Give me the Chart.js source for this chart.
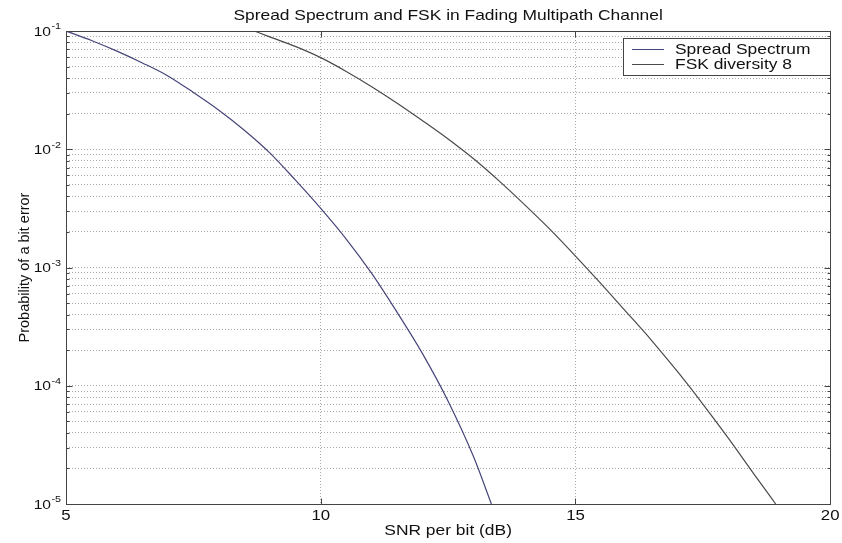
<!DOCTYPE html>
<html>
<head>
<meta charset="utf-8">
<script src="https://cdn.jsdelivr.net/npm/chart.js@4/dist/chart.umd.min.js"></script>
<style>
  html, body { margin: 0; padding: 0; background: #fff; }
  #wrap { width: 842px; height: 543px; }
</style>
</head>
<body>
<div id="wrap"><canvas id="c" width="842" height="543"></canvas></div>
<script>
// ---- data ----
const chartTitle = 'Spread Spectrum and FSK in Fading Multipath Channel';
const xTitle = 'SNR per bit (dB)';
const yTitle = 'Probability of a bit error';
const seriesNames = ['Spread Spectrum', 'FSK diversity 8'];

const snrSpread = [5, 5.5, 6, 6.5, 7, 7.5, 8, 8.5, 9, 9.5, 10, 10.5, 11, 11.5, 12, 12.5, 13, 13.35];
const pbSpread  = [0.1, 0.0832, 0.0676, 0.0537, 0.0417, 0.0302, 0.0214, 0.0145, 0.00933, 0.0055,
                   0.00316, 0.00174, 0.000891, 0.000417, 0.000186, 0.0000741, 0.0000251, 0.00001];

const snrFsk = [8.7, 9, 9.5, 10, 10.5, 11, 11.5, 12, 12.5, 13, 13.5, 14, 14.5, 15, 15.5, 16, 16.5, 17, 17.5, 18, 18.5, 18.93];
const pbFsk  = [0.1, 0.0891, 0.0741, 0.0595, 0.0455, 0.0338, 0.0245, 0.0174, 0.0122, 0.0083, 0.0054,
                0.0034, 0.0021, 0.00125, 0.00073, 0.00042, 0.00024, 0.000132, 0.0000700,
                0.0000360, 0.0000180, 0.00001];

const xTicks = [5, 10, 15, 20];
const yMajorTicks = [1e-5, 1e-4, 1e-3, 1e-2, 1e-1];
const yTickExponents = ['-5', '-4', '-3', '-2', '-1'];

// ---- helpers ----
const toPts = (xs, ys) => xs.map((x, i) => ({ x: x, y: ys[i] }));
const yAllTicks = [];
for (let e = -5; e <= -2; e++) {
  for (let k = 1; k <= 9; k++) yAllTicks.push(Number((k * Math.pow(10, e)).toPrecision(3)));
}
yAllTicks.push(0.1);

const FONT = "'Liberation Sans', Arial, sans-serif";
const STRETCH = 1.2; // the reference text is drawn horizontally widened

const stretchPlugin = {
  id: 'stretch',
  beforeDraw(chart) {
    const ctx = chart.ctx;
    if (ctx.__stretched) return;
    const orig = ctx.fillText.bind(ctx);
    ctx.fillText = function (t, x, y) {
      const m = ctx.getTransform();
      if (Math.abs(m.b) > 1e-6 || Math.abs(m.c) > 1e-6) return orig(t, x, y);
      ctx.save();
      ctx.translate(x, y);
      ctx.scale(STRETCH, 1);
      orig(t, 0, 0);
      ctx.restore();
    };
    ctx.__stretched = true;
  }
};

const framePlugin = {
  id: 'frame',
  afterDatasetsDraw(chart) {
    const { ctx, chartArea: a } = chart;
    const L = Math.round(a.left) + 0.5, R = Math.round(a.right) + 0.5;
    const T = Math.round(a.top) + 0.5, B = Math.round(a.bottom) + 0.5;
    ctx.save();
    ctx.strokeStyle = '#444';
    ctx.lineWidth = 1;
    ctx.strokeRect(L, T, R - L, B - T);
    // inward tick marks
    const ys = chart.scales.y, xs = chart.scales.x;
    ctx.beginPath();
    yAllTicks.forEach(v => {
      const py = Math.round(ys.getPixelForValue(v)) + 0.5;
      const len = yMajorTicks.includes(v) ? 6 : 3;
      ctx.moveTo(L, py); ctx.lineTo(L + len, py);
      ctx.moveTo(R, py); ctx.lineTo(R - len, py);
    });
    xTicks.forEach(v => {
      const px = Math.round(xs.getPixelForValue(v)) + 0.5;
      ctx.moveTo(px, B); ctx.lineTo(px, B - 6);
      ctx.moveTo(px, T); ctx.lineTo(px, T + 6);
    });
    ctx.stroke();
    // y tick labels with superscripts
    ctx.fillStyle = '#111';
    ctx.textBaseline = 'middle';
    yMajorTicks.forEach((v, i) => {
      const py = ys.getPixelForValue(v);
      ctx.font = '13px ' + FONT;
      ctx.textAlign = 'right';
      ctx.fillText('10', 51, py + 1);
      ctx.font = '9px ' + FONT;
      ctx.textAlign = 'left';
      ctx.fillText(yTickExponents[i], 51.5, py - 4);
    });
    // legend box
    const lx = 623, ly = 38, lw = 207, lh = 37;
    ctx.fillStyle = '#fff';
    ctx.fillRect(lx, ly, lw, lh);
    ctx.strokeStyle = '#444';
    ctx.strokeRect(lx + 0.5, ly + 0.5, lw, lh);
    chart.data.datasets.forEach((ds, i) => {
      const ry = 49 + i * 15;
      ctx.strokeStyle = ds.borderColor;
      ctx.lineWidth = 1;
      ctx.beginPath();
      ctx.moveTo(632, ry + 0.5);
      ctx.lineTo(664, ry + 0.5);
      ctx.stroke();
      ctx.fillStyle = '#111';
      ctx.font = '14.5px ' + FONT;
      ctx.textAlign = 'left';
      ctx.textBaseline = 'middle';
      ctx.fillText(ds.label, 675, ry + 1);
    });
    ctx.restore();
  }
};

new Chart(document.getElementById('c'), {
  type: 'line',
  data: {
    datasets: [
      { label: seriesNames[0], data: toPts(snrSpread, pbSpread), borderColor: '#45457a',
        borderWidth: 1.2, pointRadius: 0, cubicInterpolationMode: 'monotone', fill: false },
      { label: seriesNames[1], data: toPts(snrFsk, pbFsk), borderColor: '#4a4a4a',
        borderWidth: 1.2, pointRadius: 0, cubicInterpolationMode: 'monotone', fill: false }
    ]
  },
  options: {
    responsive: false,
    animation: false,
    devicePixelRatio: 1,
    layout: { padding: { left: 0, right: 9, top: 0, bottom: 0 } },
    plugins: {
      legend: { display: false },
      tooltip: { enabled: false },
      title: {
        display: true, text: chartTitle, color: '#111', fullSize: false,
        font: { family: FONT, size: 14.5, weight: 'normal' },
        padding: { top: 7, bottom: 6.6 }
      }
    },
    scales: {
      x: {
        type: 'linear', min: 5, max: 20,
        afterBuildTicks: s => { s.ticks = xTicks.map(v => ({ value: v })); },
        afterFit: s => { s.height = 39; },
        ticks: { color: '#111', font: { family: FONT, size: 14 }, padding: 4, maxRotation: 0 },
        grid: {
          color: ctx => (ctx.tick && (ctx.tick.value === 5 || ctx.tick.value === 20)) ? 'rgba(0,0,0,0)' : '#a8a8a8',
          drawTicks: false, lineWidth: 1
        },
        border: { display: false, dash: [1, 2] },
        title: { display: true, text: xTitle, color: '#111', font: { family: FONT, size: 14.5 }, padding: { top: 0, bottom: 3 } }
      },
      y: {
        type: 'logarithmic', min: 1e-5, max: 1e-1,
        afterBuildTicks: s => { s.ticks = yAllTicks.map(v => ({ value: v })); },
        afterFit: s => { s.width = 66; },
        ticks: { display: false },
        grid: {
          color: ctx => (ctx.tick && (ctx.tick.value === 1e-5 || ctx.tick.value === 0.1)) ? 'rgba(0,0,0,0)' : '#a8a8a8',
          drawTicks: false, lineWidth: 1
        },
        border: { display: false, dash: [1, 2] },
        title: { display: true, text: yTitle, color: '#111', font: { family: FONT, size: 14.5 }, padding: { top: 16, bottom: 0 } }
      }
    }
  },
  plugins: [stretchPlugin, framePlugin]
});
</script>
</body>
</html>
